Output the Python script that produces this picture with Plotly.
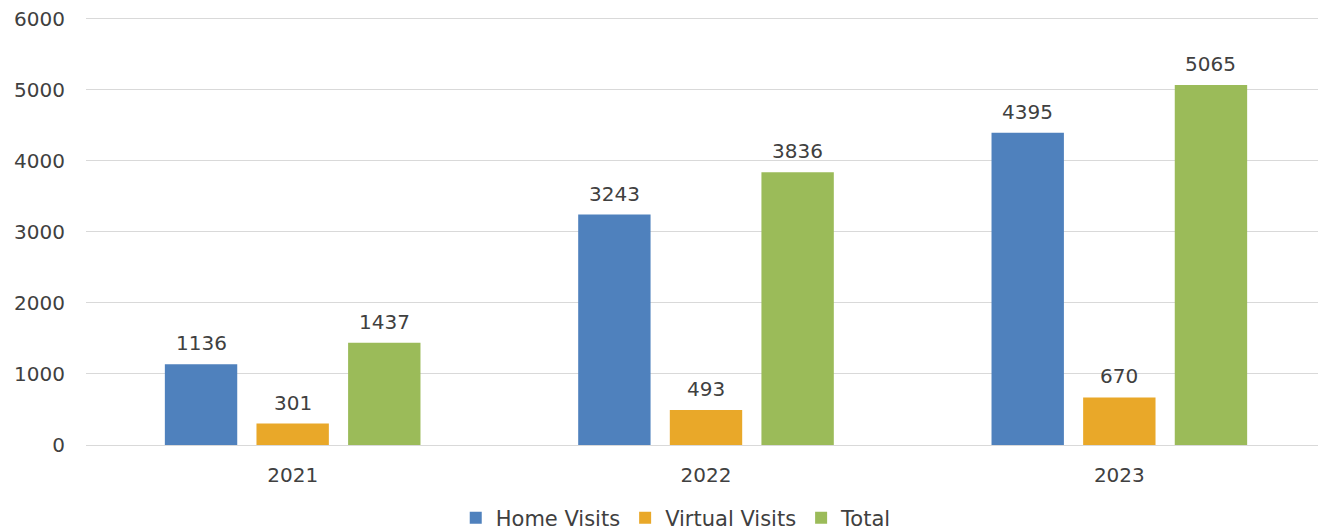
import plotly.graph_objects as go

years = ["2021", "2022", "2023"]
home_visits = [1136, 3243, 4395]
virtual_visits = [301, 493, 670]
total = [1437, 3836, 5065]

series = [
    ("Home Visits", home_visits, "#4F81BD"),
    ("Virtual Visits", virtual_visits, "#E9A829"),
    ("Total", total, "#9BBB59"),
]

font_family = "DejaVu Sans, Verdana, sans-serif"
text_color = "#404040"
slot_px = 91.5  # horizontal distance between bars within a group

fig = go.Figure()
for name, vals, color in series:
    fig.add_trace(go.Bar(
        x=years,
        y=vals,
        name=name,
        marker=dict(color=color, line=dict(width=0)),
    ))

# value labels above bars, a bit further up than plotly's outside text
# (x given as category index so "2021" isn't read as a number)
annotations = []
for i, (name, vals, color) in enumerate(series):
    for j, v in enumerate(vals):
        annotations.append(dict(
            x=j, y=v, xref="x", yref="y",
            text=str(v), showarrow=False,
            xshift=(i - 1) * slot_px, yshift=7,
            yanchor="bottom",
            font=dict(size=20, color=text_color, family=font_family),
        ))

# page body has an 8px margin, so the figure is a bit smaller than the window
fig.update_layout(
    width=1318,
    height=524,
    barmode="group",
    bargap=0.335,
    bargroupgap=0.21,
    plot_bgcolor="white",
    paper_bgcolor="white",
    margin=dict(l=78, r=0, t=7, b=87, autoexpand=False),
    font=dict(family=font_family, size=20, color=text_color),
    annotations=annotations,
    legend=dict(
        orientation="h",
        x=0.476,
        xanchor="center",
        y=-0.17,
        yanchor="middle",
        font=dict(size=21, color=text_color),
        itemwidth=30,
        traceorder="normal",
    ),
    showlegend=True,
)

fig.update_yaxes(
    range=[0, 6050],
    tickvals=[0, 1000, 2000, 3000, 4000, 5000, 6000],
    automargin=False,
    ticklabeloverflow="allow",
    showgrid=True,
    gridcolor="#D9D9D9",
    gridwidth=1,
    zeroline=True,
    zerolinecolor="#D9D9D9",
    zerolinewidth=1,
    ticks="",
    ticklabelstandoff=20,
    tickfont=dict(size=20, color=text_color),
)

fig.update_xaxes(
    type="category",
    range=[-0.5, 2.5],
    automargin=False,
    showgrid=False,
    showline=False,
    ticks="",
    ticklabelstandoff=16,
    tickfont=dict(size=20, color=text_color),
)

fig.write_html("out.html")
